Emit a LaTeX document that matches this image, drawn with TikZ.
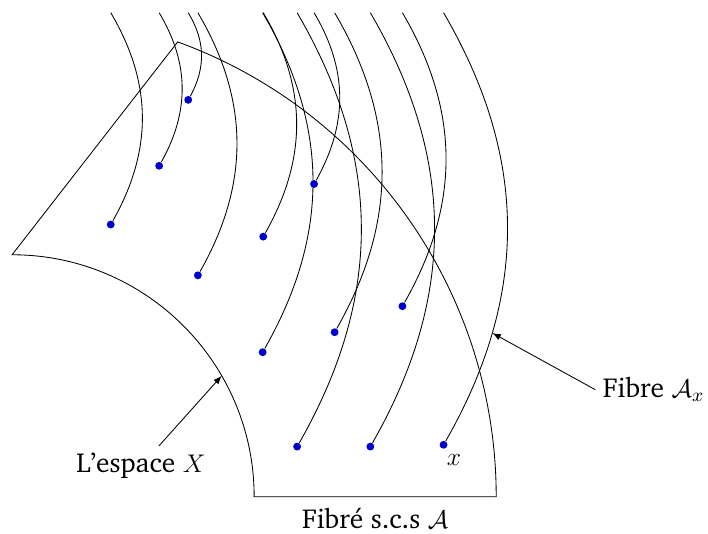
\documentclass[tikz,border=0pt]{standalone}
\usepackage[T1]{fontenc}
\usepackage{charter}
\usetikzlibrary{arrows}
\begin{document}
\begin{tikzpicture}[font=\fontsize{12.9}{15}\selectfont, >=latex,
  pt/.style={circle, fill=blue!80!black, inner sep=0pt, minimum size=0.13cm}]
  \def\R{4}
  \useasboundingbox (-0.2,-0.61) rectangle (11.5,8.21);
  % base space: piece of annulus
  \draw (0,\R) arc (90:0:\R) -- (2*\R,0) arc (0:70:2*\R) -- cycle;
  \coordinate (xin) at (30:\R);
  % fibres, one per point
  \foreach \x/\y [count=\i] in {1.63/4.50, 2.43/5.47, 2.91/6.56, 3.07/3.66,
      4.15/4.30, 4.14/2.39, 4.71/0.83, 4.99/5.17, 5.33/2.72, 5.92/0.83,
      6.45/3.15, 7.13/0.86}{
    \coordinate (t\i) at (\x,2*\R);
    \node[pt] (p\i) at (\x,\y) {};
    \draw (t\i) to[bend left=30] coordinate[pos=0.75] (f\i) (p\i);
  }
  \node[below right=1pt, xshift=-3pt] (xl) at (p12) {$x$};
  \node (lesp) at (2.13,0.51) {L'espace $X$};
  \node (flab) at (10.6,1.77) {Fibre $\mathcal{A}_x$};
  \node[below, yshift=-2pt] (tot) at (1.5*\R,0) {Fibr\'e s.c.s $\mathcal{A}$};
  \draw[->] (lesp) -- (xin);
  \draw[->] (flab.west) -- (f12);
\end{tikzpicture}
\end{document}
